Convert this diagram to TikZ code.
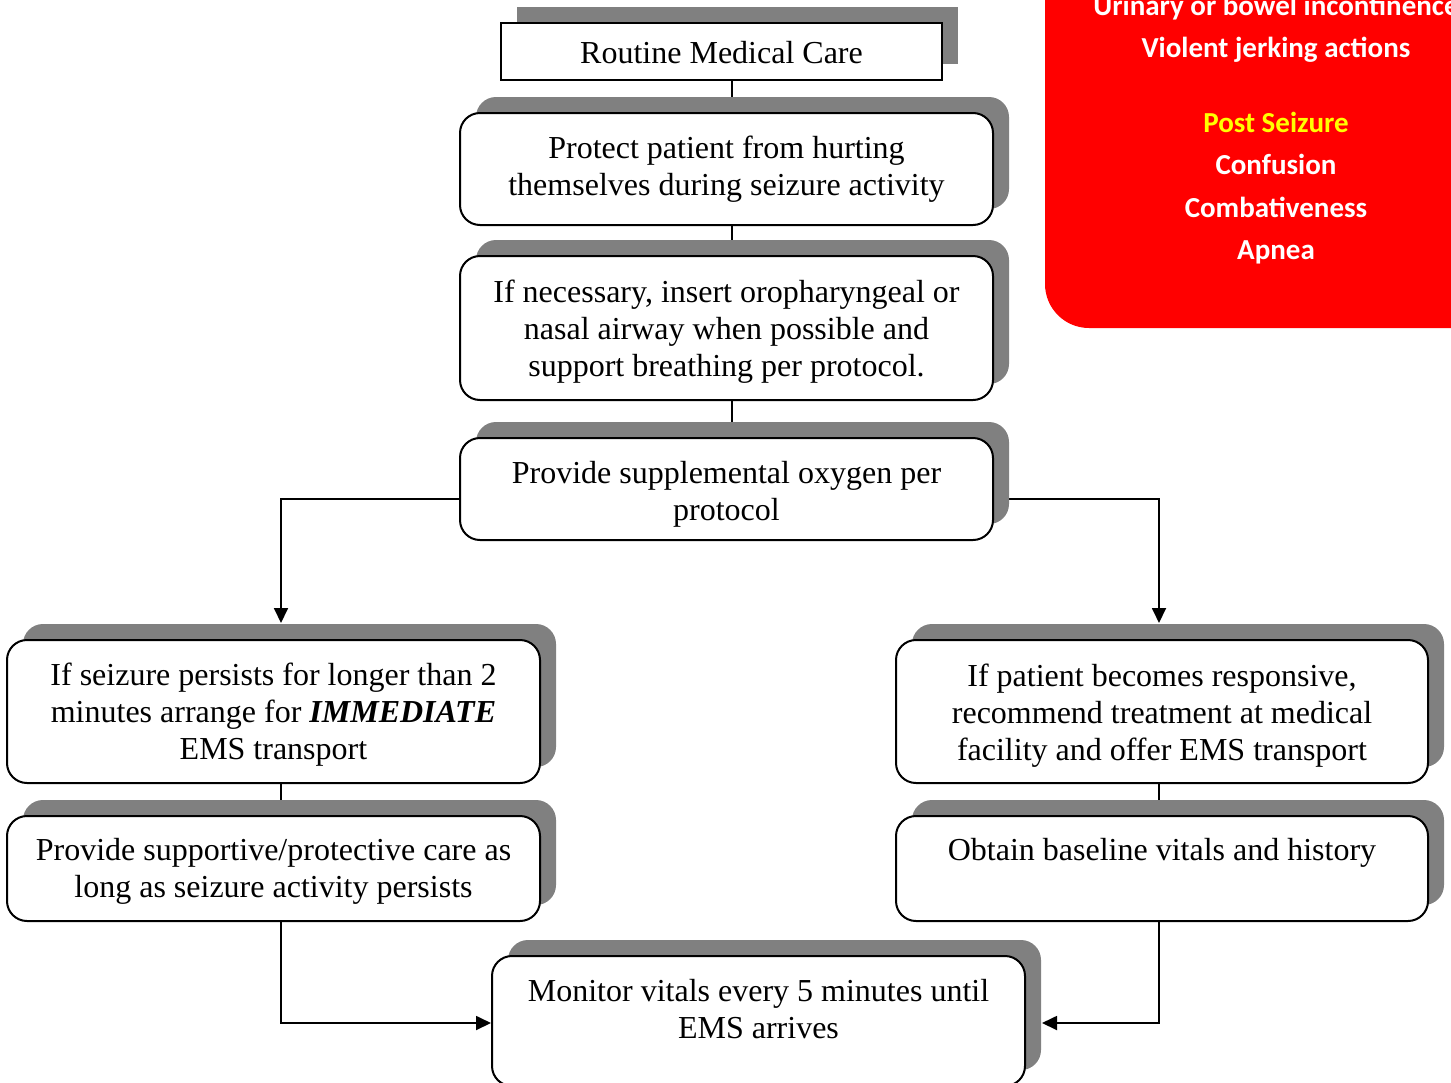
\documentclass[tikz,border=0pt]{standalone}
\usepackage{fontspec}
\setmainfont{Liberation Serif}
\newfontfamily\calibfont{Carlito}
\usetikzlibrary{shadows,arrows.meta,backgrounds}
\definecolor{shadowgray}{HTML}{808080}
\definecolor{alertred}{HTML}{FF0000}
\definecolor{alertyellow}{HTML}{FFFF00}
\begin{document}
\begin{tikzpicture}[x=1pt,y=-1pt,
  box/.style={draw, line width=2pt, rounded corners=20pt, fill=white,
    general shadow={fill=shadowgray, shadow xshift=16pt, shadow yshift=16pt},
    inner sep=0pt, minimum width=533pt},
  txt/.style={inner sep=0pt, align=center, font=\fontsize{32}{37}\selectfont},
  link/.style={line width=1.8pt},
  arrow/.style={link, -{Triangle[length=15pt,width=14pt]}},
  redtxt/.style={font=\calibfont\bfseries\fontsize{29}{35}\selectfont, text=white, anchor=base, inner sep=0pt},
]
\useasboundingbox (0,0) rectangle (1451,1082);
\clip (0,0) rectangle (1451,1082);

% red alert panel
\fill[alertred, rounded corners=44pt] (1045,-80) -- (1045,328) -- (1540,328) -- (1540,-80) -- cycle;
\node[redtxt] (r1) at (1276,15) {Urinary or bowel incontinence};
\node[redtxt] (r2) at (1276,57) {Violent jerking actions};
\node[redtxt, text=alertyellow] (r3) at (1276,132) {Post Seizure};
\node[redtxt] (r4) at (1276,174) {Confusion};
\node[redtxt] (r5) at (1276,217) {Combativeness};
\node[redtxt] (r6) at (1276,259) {Apnea};

% boxes
\node[box, rounded corners=0pt, minimum width=441pt, minimum height=57pt] (routine) at (721.5,51.5) {};
\node[box, minimum height=112pt] (protect) at (726.5,169) {};
\node[box, minimum height=144pt] (airway) at (726.5,328) {};
\node[box, minimum height=102pt] (oxygen) at (726.5,489) {};
\node[box, minimum height=143pt] (left1) at (273.5,711.5) {};
\node[box, minimum height=105pt] (left2) at (273.5,868.5) {};
\node[box, minimum width=532pt, minimum height=143pt] (right1) at (1162,711.5) {};
\node[box, minimum width=532pt, minimum height=105pt] (right2) at (1162,868.5) {};
\node[box, minimum height=130pt] (monitor) at (758.5,1021) {};

% texts
\node[txt] (routinet) at (721.5,52.5) {Routine Medical Care};
\node[txt] (protectt) at (726.5,169) {Protect patient from hurting\\themselves during seizure activity};
\node[txt] (airwayt) at (726.5,332) {If necessary, insert oropharyngeal or\\nasal airway when possible and\\support breathing per protocol.};
\node[txt] (oxygent) at (726.5,494) {Provide supplemental oxygen per\\protocol};
\node[txt] (left1t) at (273.5,715) {If seizure persists for longer than 2\\minutes arrange for \textbf{\textit{IMMEDIATE}}\\EMS transport};
\node[txt] (left2t) at (273.5,871.5) {Provide supportive/protective care as\\long as seizure activity persists};
\node[txt] (right1t) at (1162,715.5) {If patient becomes responsive,\\recommend treatment at medical\\facility and offer EMS transport};
\node[txt] (right2t) at (1162,853) {Obtain baseline vitals and history};
\node[txt] (monitort) at (758.5,1009.5) {Monitor vitals every 5 minutes until\\EMS arrives};

\coordinate (cx) at (732,0);
\coordinate (lx) at (281,0);
\coordinate (rx) at (1159,0);

\begin{pgfonlayer}{background}
\draw[link] (routine.south -| cx) -- (protect.north -| cx);
\draw[link] (protect.south -| cx) -- (airway.north -| cx);
\draw[link] (airway.south -| cx) -- (oxygen.north -| cx);
\draw[arrow] ([yshift=-10pt]oxygen.west) -| ([yshift=16pt]left1.north -| lx);
\draw[arrow] ([yshift=-10pt]oxygen.east) -| ([yshift=16pt]right1.north -| rx);
\draw[link] (left1.south -| lx) -- (left2.north -| lx);
\draw[link] (right1.south -| rx) -- (right2.north -| rx);
\draw[arrow] (left2.south -| lx) |- ([yshift=-2pt]monitor.west);
\draw[arrow] (right2.south -| rx) |- ([xshift=16pt,yshift=-2pt]monitor.east);
\end{pgfonlayer}
\end{tikzpicture}
\end{document}
